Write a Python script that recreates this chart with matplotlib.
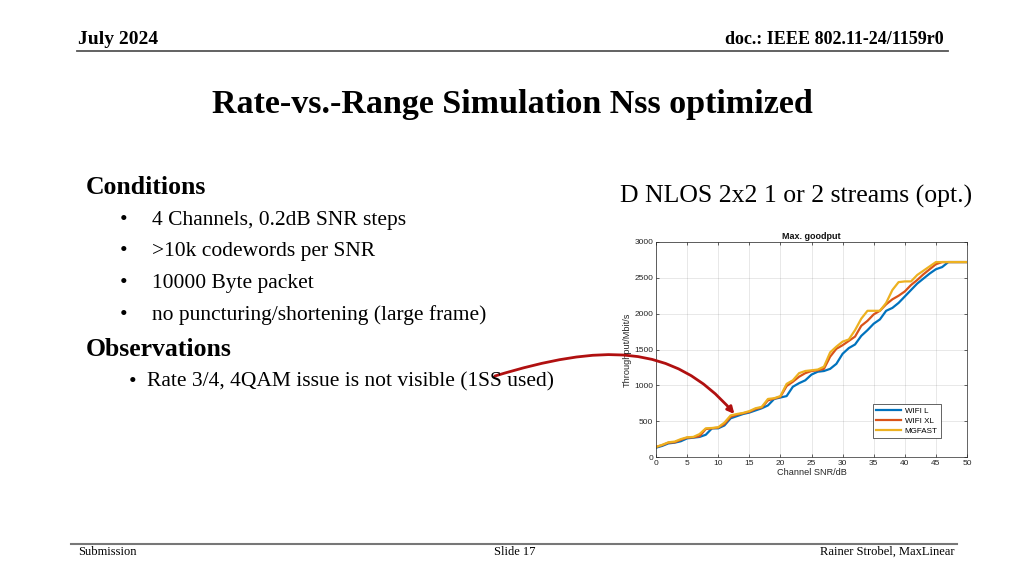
import numpy as np
import matplotlib
matplotlib.use('Agg')
import matplotlib.pyplot as plt
from matplotlib.patches import FancyArrowPatch
from matplotlib.path import Path

# Daten
snr = [0, 1, 2, 3, 4, 5, 6, 7, 8, 9, 10, 11, 12, 13, 14, 15, 16, 17, 18, 19,
       20, 21, 22, 23, 24, 25, 26, 27, 28, 29, 30, 31, 32, 33, 34, 35, 36, 37,
       38, 39, 40, 41, 42, 43, 44, 45, 46, 47, 48, 49, 50]
wifi_l = [130, 155, 190, 200, 220, 260, 270, 280, 310, 400, 400, 440, 540, 570,
          600, 620, 650, 680, 720, 810, 830, 850, 980, 1030, 1070, 1150, 1190,
          1200, 1230, 1300, 1440, 1520, 1570, 1690, 1770, 1860, 1920, 2040,
          2080, 2150, 2240, 2330, 2420, 2490, 2560, 2620, 2650, 2720, 2720,
          2720, 2720]
wifi_xl = [140, 165, 200, 205, 240, 270, 275, 290, 390, 400, 410, 460, 560, 590,
           610, 630, 670, 690, 790, 815, 840, 990, 1050, 1120, 1170, 1200, 1210,
           1230, 1400, 1510, 1560, 1620, 1680, 1830, 1900, 1990, 2040, 2130,
           2200, 2250, 2310, 2400, 2470, 2550, 2620, 2690, 2720, 2720, 2720,
           2720, 2720]
mgfast = [140, 170, 205, 215, 250, 275, 280, 320, 400, 405, 415, 480, 580, 600,
          615, 640, 680, 700, 810, 820, 850, 1020, 1070, 1170, 1200, 1210, 1220,
          1260, 1460, 1540, 1610, 1640, 1770, 1930, 2040, 2040, 2040, 2150,
          2330, 2440, 2450, 2450, 2540, 2600, 2660, 2720, 2720, 2720, 2720,
          2720, 2720]
serien = ['WIFI L', 'WIFI XL', 'MGFAST']
farben = ['#0072BD', '#D95319', '#EDB120']

conditions = ['4 Channels, 0.2dB SNR steps', '>10k codewords per SNR',
              '10000 Byte packet', 'no puncturing/shortening (large frame)']

serif = 'Liberation Serif'
sans = 'Liberation Sans'

fig = plt.figure(figsize=(10.24, 5.76), dpi=100)
W, H = 1024, 576

def fx(x):
    return x / W

def fy(y):
    return 1 - y / H

# Kopfzeile
fig.text(fx(78), fy(40), 'July 2024', family=serif, weight='bold', fontsize=14, va='center')
fig.text(fx(944), fy(40), 'doc.: IEEE 802.11-24/1159r0', family=serif, weight='bold',
         fontsize=13, va='center', ha='right')
fig.add_artist(plt.Line2D([fx(77), fx(948)], [fy(51), fy(51)], color='#555555', lw=1.3))

# Titel
fig.text(fx(512), fy(105), 'Rate-vs.-Range Simulation Nss optimized', family=serif,
         weight='bold', fontsize=24.5, ha='center', va='center')

# Text links
fig.text(fx(86), fy(188), 'Conditions', family=serif, weight='bold', fontsize=18.5, va='center')
for i, c in enumerate(conditions):
    yy = 220 + i * 31.7
    fig.text(fx(120), fy(yy), '\u2022', family=serif, fontsize=15.5, va='center')
    fig.text(fx(152), fy(yy), c, family=serif, fontsize=15.5, va='center')
fig.text(fx(86), fy(349), 'Observations', family=serif, weight='bold', fontsize=18.5, va='center')
fig.text(fx(129), fy(382), '\u2022', family=serif, fontsize=15.5, va='center')
fig.text(fx(147), fy(382), 'Rate 3/4, 4QAM issue is not visible (1SS used)', family=serif,
         fontsize=15.5, va='center')

fig.text(fx(972), fy(196), 'D NLOS 2x2 1 or 2 streams (opt.)', family=serif, fontsize=18.5,
         ha='right', va='center')

# Fusszeile
fig.add_artist(plt.Line2D([fx(71), fx(957)], [fy(544), fy(544)], color='#777777', lw=1.5))
fig.text(fx(78), fy(552), 'Submission', family=serif, fontsize=9, va='center')
fig.text(fx(515), fy(552), 'Slide 17', family=serif, fontsize=9, va='center', ha='center')
fig.text(fx(955), fy(552), 'Rainer Strobel, MaxLinear', family=serif, fontsize=9,
         va='center', ha='right')

# Diagramm
ax = fig.add_axes([fx(656), fy(457), (967 - 656) / W, (457 - 242) / H])
for werte, name, f in zip([wifi_l, wifi_xl, mgfast], serien, farben):
    ax.plot(snr, werte, color=f, lw=1.6, label=name)
ax.set_xlim(0, 50)
ax.set_ylim(0, 3000)
ax.set_xticks(np.arange(0, 51, 5))
ax.set_yticks(np.arange(0, 3001, 500))
ax.grid(True, color='#262626', alpha=0.12, lw=0.6)
ax.tick_params(direction='in', top=True, right=True, length=2.5, width=0.5,
               labelsize=6, colors='#262626', pad=2)
for s in ax.spines.values():
    s.set_color('#262626')
    s.set_linewidth(0.5)
for lab in ax.get_xticklabels() + ax.get_yticklabels():
    lab.set_family(sans)
ax.set_title('Max. goodput', family=sans, weight='bold', fontsize=6.5, pad=2, color='#111111')
ax.set_xlabel('Channel SNR/dB', family=sans, fontsize=6.6, labelpad=1, color='#262626')
ax.set_ylabel('Throughput/Mbit/s', family=sans, fontsize=6.6, labelpad=2, color='#262626')
leg = ax.legend(loc='lower right', bbox_to_anchor=(0.916, 0.088), borderaxespad=0,
                prop={'family': sans, 'size': 5.8}, fancybox=False, framealpha=1,
                edgecolor='#262626', handlelength=3, labelspacing=0.3, borderpad=0.4,
                handletextpad=0.5)
leg.get_frame().set_linewidth(0.5)

# Pfeil: vom Textende zur Kurve bei ca. 12.6 dB
ende = fig.transFigure.inverted().transform(ax.transData.transform((12.6, 600)))
pfad = Path([(fx(495), fy(376)), (fx(600), fy(344)), (fx(673), fy(342)), tuple(ende)],
            [Path.MOVETO, Path.CURVE4, Path.CURVE4, Path.CURVE4])
pfeil = FancyArrowPatch(path=pfad, arrowstyle='-|>', color='#B01010', lw=2,
                        mutation_scale=10, transform=fig.transFigure)
fig.add_artist(pfeil)

fig.savefig('out.png', dpi=100)
